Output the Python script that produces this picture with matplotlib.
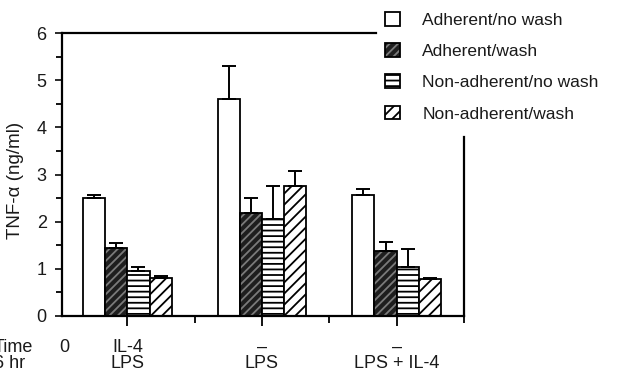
import matplotlib
matplotlib.use("Agg")
import matplotlib.pyplot as plt
from matplotlib.patches import Patch
from matplotlib.ticker import FixedLocator, MultipleLocator
import numpy as np

plt.rcParams['font.family'] = ['Liberation Sans', 'DejaVu Sans']
plt.rcParams['hatch.linewidth'] = 1.3

# ---- data ----
groups = [1, 2, 3]
series_names = ["Adherent/no wash", "Adherent/wash",
                "Non-adherent/no wash", "Non-adherent/wash"]
adh_nowash = [2.50, 4.60, 2.56]
adh_wash = [1.44, 2.18, 1.38]
non_nowash = [0.95, 2.05, 1.04]
non_wash = [0.81, 2.75, 0.78]
err_adh_nowash = [0.06, 0.70, 0.13]
err_adh_wash = [0.11, 0.32, 0.19]
err_non_nowash = [0.09, 0.70, 0.38]
err_non_wash = [0.03, 0.32, 0.02]
row1_labels = ["IL-4", "\u2013", "\u2013"]
row2_labels = ["LPS", "LPS", "LPS + IL-4"]
y_ticks = [0, 1, 2, 3, 4, 5, 6]

W, H = 623, 374
fig = plt.figure(figsize=(W / 100, H / 100), dpi=100)
ax = fig.add_axes([62 / W, 1 - 316 / H, (464 - 62) / W, (316 - 33) / H])

x = np.array(groups, dtype=float)
bw = 0.165
offs = np.array([-1.5, -0.5, 0.5, 1.5]) * bw

txt = '#1a1a1a'

# series 1: open
ax.bar(x + offs[0], adh_nowash, bw, color='white', edgecolor='black', linewidth=1.3, zorder=2)
# series 2: dark with faint hatch
ax.bar(x + offs[1], adh_wash, bw, color='#1e1e1e', edgecolor='#7a7a7a', hatch='////', linewidth=0, zorder=2)
ax.bar(x + offs[1], adh_wash, bw, fill=False, edgecolor='black', linewidth=1.3, zorder=2)
# series 3: horizontal lines
ax.bar(x + offs[2], non_nowash, bw, color='white', edgecolor='black', hatch='---', linewidth=1.3, zorder=2)
# series 4: diagonal
ax.bar(x + offs[3], non_wash, bw, color='white', edgecolor='black', hatch='///', linewidth=1.3, zorder=2)

for off, vals, errs in zip(offs, [adh_nowash, adh_wash, non_nowash, non_wash],
                           [err_adh_nowash, err_adh_wash, err_non_nowash, err_non_wash]):
    ax.errorbar(x + off, vals, yerr=[np.zeros(len(errs)), errs], fmt='none',
                ecolor='black', elinewidth=1.4, capsize=5, capthick=1.4, zorder=3)

ax.set_xlim(0.515, 3.5)
ax.set_ylim(0, 6)

for s in ax.spines.values():
    s.set_linewidth(1.6)
ax.spines['top'].set_bounds(0.515, 2.844)
ax.spines['right'].set_bounds(0, 3.79)

ax.yaxis.set_major_locator(FixedLocator(y_ticks))
ax.yaxis.set_minor_locator(MultipleLocator(0.5))
ax.set_yticklabels([str(v) for v in y_ticks])
ax.xaxis.set_major_locator(FixedLocator(groups))
ax.xaxis.set_minor_locator(FixedLocator([1.5, 2.5, 3.5]))
ax.set_xticklabels([])
ax.tick_params(axis='y', which='major', direction='out', length=5, width=1.3,
               labelsize=13, pad=6, colors=txt)
ax.tick_params(axis='y', which='minor', direction='out', length=4, width=1.3)
ax.tick_params(axis='x', which='major', direction='out', length=7, width=1.3)
ax.tick_params(axis='x', which='minor', direction='out', length=5, width=1.3)

trans = ax.get_xaxis_transform()
y1 = -(347 - 316) / (316 - 33)
y2 = -(364 - 316) / (316 - 33)
for xi, l1, l2 in zip(groups, row1_labels, row2_labels):
    ax.text(xi, y1, l1, transform=trans, ha='center', va='center', fontsize=13, color=txt)
    ax.text(xi, y2, l2, transform=trans, ha='center', va='center', fontsize=13, color=txt)
ax.text(0.515 + (64 - 62) / 134.75, y1, "0", transform=trans, ha='center', va='center',
        fontsize=13, color=txt)
fig.text(-6 / W, 1 - 347 / H, "Time", ha='left', va='center', fontsize=13, color=txt)
fig.text(-6 / W, 1 - 364 / H, "6 hr", ha='left', va='center', fontsize=13, color=txt)

fig.text(16 / W, 1 - 180 / H, "TNF-\u03b1 (ng/ml)", rotation=90, ha='center', va='center',
         fontsize=13.5, color=txt)

h1 = Patch(facecolor='white', edgecolor='black', linewidth=1.3)
h2 = (Patch(facecolor='#1e1e1e', edgecolor='#7a7a7a', hatch='////', linewidth=0),
      Patch(fill=False, edgecolor='black', linewidth=1.3))
h3 = Patch(facecolor='white', edgecolor='black', hatch='---', linewidth=1.3)
h4 = Patch(facecolor='white', edgecolor='black', hatch='///', linewidth=1.3)
fig.legend([h1, h2, h3, h4], series_names, loc='upper left',
           bbox_to_anchor=(385 / W, 1 - 12 / H), frameon=False, fontsize=12.5,
           handlelength=0.85, handleheight=0.85, handletextpad=1.3,
           labelspacing=0.88, borderpad=0, borderaxespad=0, labelcolor=txt)

fig.savefig("out.png", dpi=100)
